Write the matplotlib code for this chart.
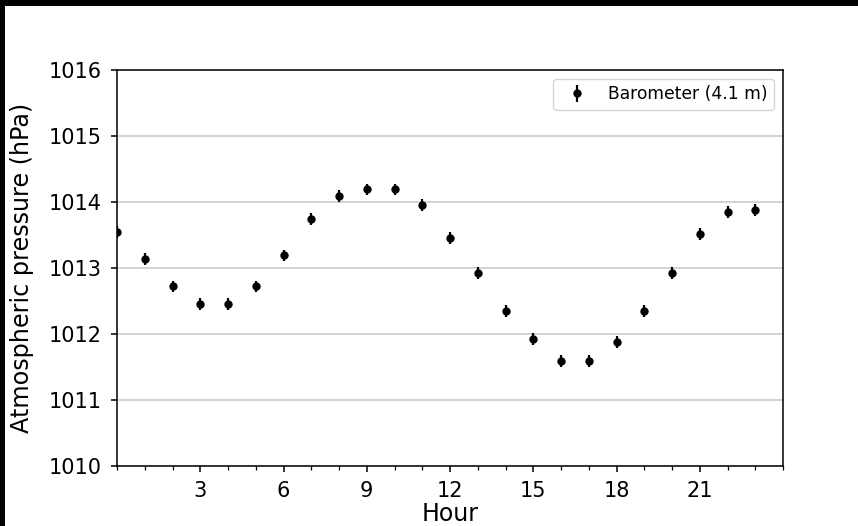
import matplotlib
matplotlib.use("Agg")
import matplotlib.pyplot as plt
from matplotlib.patches import Rectangle
from matplotlib.ticker import MultipleLocator

hours = list(range(24))
pressure = [1013.55, 1013.13, 1012.72, 1012.46, 1012.45, 1012.72, 1013.19, 1013.74,
            1014.09, 1014.19, 1014.19, 1013.96, 1013.46, 1012.93, 1012.35, 1011.93,
            1011.59, 1011.59, 1011.88, 1012.35, 1012.93, 1013.51, 1013.85, 1013.88]
pressure_err = [0.09] * 24
series_label = "Barometer (4.1 m)"
x_ticks = [3, 6, 9, 12, 15, 18, 21]
y_ticks = [1010, 1011, 1012, 1013, 1014, 1015, 1016]

fig = plt.figure(figsize=(8.58, 5.26), dpi=100, facecolor="black")
# white canvas with a thin dark margin along the top and left edges
fig.patches.append(Rectangle((5 / 858, 0), 1, 1 - 6 / 526, transform=fig.transFigure,
                             facecolor="white", edgecolor="none", zorder=-10))
ax = fig.add_axes([117 / 858, 60 / 526, 666 / 858, 396 / 526])

ax.errorbar(hours, pressure, yerr=pressure_err, fmt="o", color="black",
            markersize=5, elinewidth=1.6, label=series_label, zorder=3)

ax.set_xlim(0, 24)
ax.set_ylim(1010, 1016)
ax.set_xticks(x_ticks)
ax.xaxis.set_minor_locator(MultipleLocator(1))
ax.set_yticks(y_ticks)
ax.yaxis.grid(True, color="#c8c8c8", linewidth=1.1)
ax.set_axisbelow(True)
for s in ax.spines.values():
    s.set_linewidth(1.1)
ax.tick_params(which="major", labelsize=15, length=4.5, width=1.1, pad=6.5)
ax.tick_params(which="minor", length=2.8, width=0.9)
ax.set_xlabel("Hour", fontsize=17, labelpad=0.5)
ax.set_ylabel("Atmospheric pressure (hPa)", fontsize=17.2)
ax.yaxis.set_label_coords(-0.124, 0.5)
ax.legend(loc="upper right", fontsize=12.3)

fig.savefig("out.png", dpi=100, facecolor=fig.get_facecolor())
